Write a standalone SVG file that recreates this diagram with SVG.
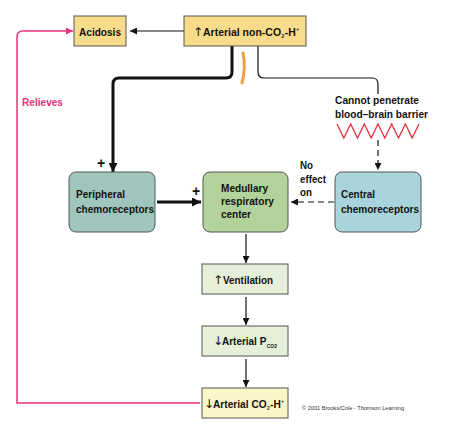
<svg xmlns="http://www.w3.org/2000/svg" width="454" height="431" viewBox="0 0 454 431">
<style>
text{font-family:"Liberation Sans",Arial,sans-serif;font-weight:bold;font-size:11px;fill:#111}
.arr{font-family:"DejaVu Sans",sans-serif;font-weight:normal;font-size:12px}
.box{stroke:#555;stroke-width:1}
.ln{fill:none;stroke:#111;stroke-width:1.2}
.thick{fill:none;stroke:#111;stroke-width:3}
.pink{fill:none;stroke:#e8327c;stroke-width:1.5}
</style>
<defs>
<marker id="ah" viewBox="0 0 10 10" refX="10" refY="5" markerWidth="7" markerHeight="7" markerUnits="userSpaceOnUse" orient="auto"><path d="M0,0 L10,5 L0,10 z" fill="#111"/></marker>
<marker id="ahT" viewBox="0 0 10 10" refX="10" refY="5" markerWidth="9" markerHeight="9" markerUnits="userSpaceOnUse" orient="auto"><path d="M0,0 L10,5 L0,10 z" fill="#111"/></marker>
<marker id="ahP" viewBox="0 0 10 10" refX="10" refY="5" markerWidth="7" markerHeight="7" markerUnits="userSpaceOnUse" orient="auto"><path d="M0,0 L10,5 L0,10 z" fill="#e8327c"/></marker>
</defs>
<rect width="454" height="431" fill="#fff"/>

<g id="connectors">
<line class="ln" x1="184" y1="31" x2="130" y2="31" marker-end="url(#ah)"/>
<path class="thick" d="M232,46 V72 Q232,78 226,78 H119 Q113,78 113,84 V172" marker-end="url(#ahT)"/>
<path class="ln" d="M258,46 V72 Q258,78 264,78 H372 Q378,78 378,84 V94"/>
<path d="M243,53 Q246,68 242,83" fill="none" stroke="#f0a040" stroke-width="3" stroke-linecap="round"/>
<polyline points="337,124 343.8,138 350.7,124 357.5,138 364.3,124 371.2,138 378,124 384.8,138 391.7,124 398.5,138 405.3,124 412.2,138 419,124" fill="none" stroke="#e8323c" stroke-width="1.3"/>
<line class="ln" x1="378" y1="140" x2="378" y2="170" stroke-dasharray="6,4" marker-end="url(#ah)"/>
<line class="thick" x1="157" y1="202" x2="201" y2="202" marker-end="url(#ahT)"/>
<line class="ln" x1="334" y1="202" x2="291" y2="202" stroke-dasharray="6,4" marker-end="url(#ah)"/>
<line class="ln" x1="246" y1="234" x2="246" y2="263" marker-end="url(#ah)"/>
<line class="ln" x1="246" y1="297" x2="246" y2="325" marker-end="url(#ah)"/>
<line class="ln" x1="246" y1="359" x2="246" y2="387" marker-end="url(#ah)"/>
<path class="pink" d="M200,403 H17 V37 Q17,31 23,31 H73" marker-end="url(#ahP)"/>
<text x="22" y="106" style="fill:#e8327c;font-size:10px" textLength="41" lengthAdjust="spacingAndGlyphs">Relieves</text>
<text x="335" y="104" textLength="84" lengthAdjust="spacingAndGlyphs">Cannot penetrate</text>
<text x="335" y="118" textLength="93" lengthAdjust="spacingAndGlyphs">blood–brain barrier</text>
<text x="300" y="169" textLength="13" lengthAdjust="spacingAndGlyphs">No</text>
<text x="300" y="183" textLength="26" lengthAdjust="spacingAndGlyphs">effect</text>
<text x="300" y="196" textLength="12" lengthAdjust="spacingAndGlyphs">on</text>
<text x="97" y="168" style="font-size:14px">+</text>
<text x="192" y="196" style="font-size:14px">+</text>
</g>

<g id="acidosis">
<rect class="box" x="74" y="16" width="52" height="30" fill="#f8dc8c"/>
<text x="79" y="36" textLength="42" lengthAdjust="spacingAndGlyphs">Acidosis</text>
</g>

<g id="arterial-nonco2">
<rect class="box" x="184" y="16" width="122" height="30" fill="#f8dc8c"/>
<text class="arr" x="193" y="36">↑</text>
<text x="203" y="36" textLength="96" lengthAdjust="spacingAndGlyphs">Arterial non-CO<tspan dx="0.5" dy="2" style="font-size:5px">2</tspan><tspan dx="0.5" dy="-2">-H</tspan><tspan dx="0.5" dy="-5" style="font-size:5px">+</tspan></text>
</g>

<g id="peripheral">
<rect class="box" x="69" y="172" width="86" height="60" rx="7" fill="#9fc5bd"/>
<text x="76" y="198" textLength="49" lengthAdjust="spacingAndGlyphs">Peripheral</text>
<text x="76" y="213" textLength="78" lengthAdjust="spacingAndGlyphs">chemoreceptors</text>
</g>

<g id="medullary">
<rect class="box" x="203" y="172" width="85" height="60" rx="7" fill="#b3d29c"/>
<text x="221" y="192" textLength="47" lengthAdjust="spacingAndGlyphs">Medullary</text>
<text x="221" y="205" textLength="53" lengthAdjust="spacingAndGlyphs">respiratory</text>
<text x="221" y="218" textLength="30" lengthAdjust="spacingAndGlyphs">center</text>
</g>

<g id="central">
<rect class="box" x="335" y="172" width="86" height="60" rx="7" fill="#a9d4dc"/>
<text x="341" y="198" textLength="34" lengthAdjust="spacingAndGlyphs">Central</text>
<text x="341" y="213" textLength="78" lengthAdjust="spacingAndGlyphs">chemoreceptors</text>
</g>

<g id="ventilation">
<rect class="box" x="202" y="264" width="86" height="30" fill="#e6f0d8"/>
<text class="arr" x="213" y="284">↑</text>
<text x="223" y="284" textLength="50" lengthAdjust="spacingAndGlyphs">Ventilation</text>
</g>

<g id="pco2">
<rect class="box" x="202" y="326" width="86" height="30" fill="#e6f0d8"/>
<text class="arr" x="213" y="345">↓</text>
<text x="222" y="345" textLength="55" lengthAdjust="spacingAndGlyphs">Arterial P<tspan dx="0.5" dy="3" style="font-size:5.5px">CO2</tspan></text>
</g>

<g id="arterial-co2">
<rect class="box" x="202" y="388" width="86" height="30" fill="#fbf5c8"/>
<text class="arr" x="204" y="408">↓</text>
<text x="213" y="408" textLength="71" lengthAdjust="spacingAndGlyphs">Arterial CO<tspan dx="0.5" dy="2" style="font-size:5px">2</tspan><tspan dx="0.5" dy="-2">-H</tspan><tspan dx="0.5" dy="-5" style="font-size:5px">+</tspan></text>
</g>

<text x="302" y="410" style="font-weight:normal;font-size:5.5px;fill:#333" textLength="102" lengthAdjust="spacingAndGlyphs">© 2001 Brooks/Cole - Thomson Learning</text>
</svg>
